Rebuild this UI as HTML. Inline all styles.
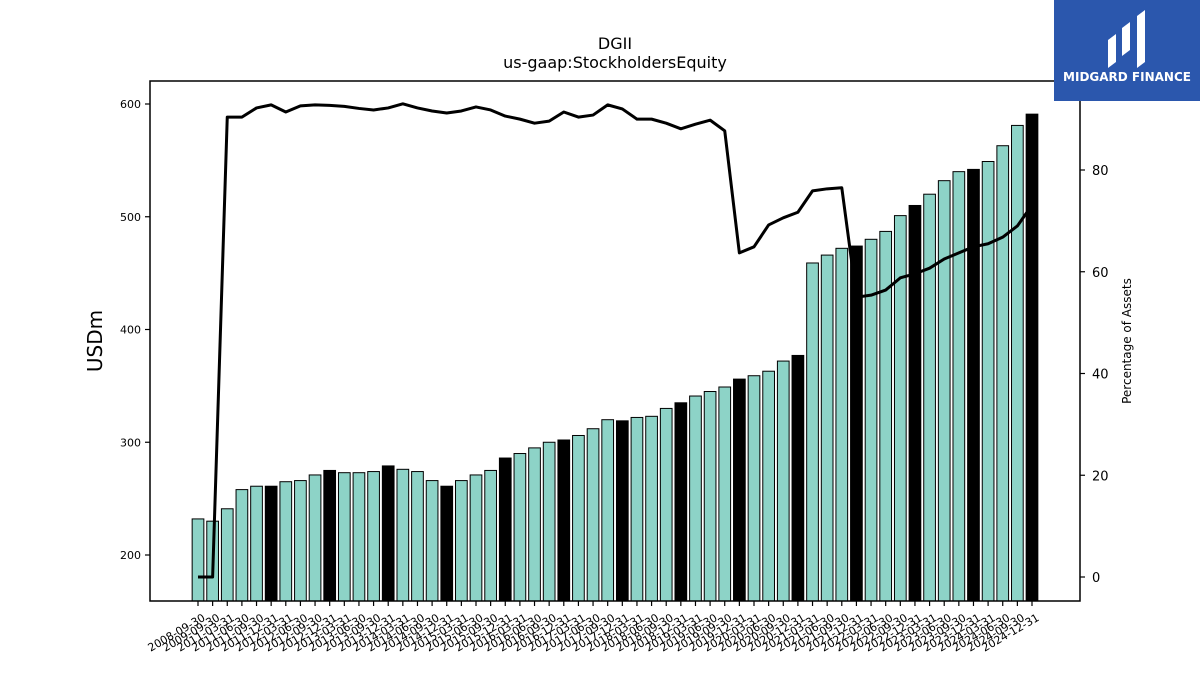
<!DOCTYPE html>
<html><head><meta charset="utf-8"><style>
body{margin:0;background:#fff;}
svg text{font-family:"DejaVu Sans","Liberation Sans",sans-serif;}
</style></head><body>
<svg id="chart" width="1200" height="675" xmlns="http://www.w3.org/2000/svg">
<rect x="0" y="0" width="1200" height="675" fill="#fff"/>
<text x="615" y="49" font-size="16" text-anchor="middle">DGII</text>
<text x="615" y="68" font-size="16" text-anchor="middle">us-gaap:StockholdersEquity</text>
<text x="102" y="341" font-size="20" text-anchor="middle" transform="rotate(-90 102 341)">USDm</text>
<text x="1131" y="341" font-size="12" text-anchor="middle" transform="rotate(-90 1131 341)">Percentage of Assets</text>
<g id="bars"></g>
<g id="xticks"></g>
<g id="yticks"></g>
<g id="y2ticks"></g>
<polyline id="pct-line" fill="none" stroke="#000" stroke-width="3" stroke-linejoin="round"/>
<rect x="150" y="81" width="930" height="520" fill="none" stroke="#000" stroke-width="1.5"/>
<g>
<rect x="1054" y="0" width="146" height="101" fill="#2b57ad"/>
<path d="M1108 68 L1108 40 L1116 34 L1116 62 Z M1122 56 L1122 28 L1130 22 L1130 50 Z M1137 68 L1137 16 L1145 10 L1145 62 Z" fill="#fff"/>
<text x="1127" y="81" font-size="12" font-weight="bold" fill="#fff" text-anchor="middle">MIDGARD FINANCE</text>
</g>
</svg>
<script>
const dates=["2008-09-30","2009-09-30","2011-03-31","2011-06-30","2011-09-30","2011-12-31","2012-03-31","2012-06-30","2012-09-30","2012-12-31","2013-03-31","2013-06-30","2013-09-30","2013-12-31","2014-03-31","2014-06-30","2014-09-30","2014-12-31","2015-03-31","2015-06-30","2015-09-30","2015-12-31","2016-03-31","2016-06-30","2016-09-30","2016-12-31","2017-03-31","2017-06-30","2017-09-30","2017-12-31","2018-03-31","2018-06-30","2018-09-30","2018-12-31","2019-03-31","2019-06-30","2019-09-30","2019-12-31","2020-03-31","2020-06-30","2020-09-30","2020-12-31","2021-03-31","2021-06-30","2021-09-30","2021-12-31","2022-03-31","2022-06-30","2022-09-30","2022-12-31","2023-03-31","2023-06-30","2023-09-30","2023-12-31","2024-03-31","2024-06-30","2024-09-30","2024-12-31"];
const equity=[232,230,241,258,261,261,265,266,271,275,273,273,274,279,276,274,266,261,266,271,275,286,290,295,300,302,306,312,320,319,322,323,330,335,341,345,349,356,359,363,372,377,459,466,472,474,480,487,501,510,520,532,540,542,549,563,581,591];
const pctAssets=[0,0,90.4,90.4,92.2,92.8,91.4,92.6,92.8,92.7,92.5,92.1,91.8,92.2,93.0,92.2,91.6,91.2,91.6,92.4,91.8,90.6,90.0,89.2,89.6,91.4,90.4,90.8,92.8,92.0,90.0,90.0,89.2,88.1,89.0,89.8,87.7,63.7,64.9,69.2,70.6,71.7,75.9,76.3,76.5,55.0,55.4,56.4,58.8,59.6,60.7,62.5,63.7,64.9,65.5,66.8,69.0,73.1];
const yTicks=[200,300,400,500,600];
const y2Ticks=[0,20,40,60,80];
const NS="http://www.w3.org/2000/svg";
const x0=198,x1=1032;
const step=(x1-x0)/(dates.length-1);
const xs=i=>x0+i*step;
const ys=v=>555-(v-200)*1.1275;
const y2s=p=>577-p*5.0875;
const bottom=601;
function mk(tag,attrs,parent){const e=document.createElementNS(NS,tag);for(const k in attrs)e.setAttribute(k,attrs[k]);parent.appendChild(e);return e;}
const bars=document.getElementById('bars'),xt=document.getElementById('xticks');
const bw=step*0.8;
dates.forEach((d,i)=>{
  const y=ys(equity[i]);
  const b=mk('rect',{x:xs(i)-bw/2,y:y,width:bw,height:bottom-y,fill:d.endsWith('12-31')?'#000':'#8dd3c7',stroke:'#000','stroke-width':1},bars);
  
  
  const t=mk('line',{x1:xs(i),x2:xs(i),y1:bottom,y2:bottom+5,stroke:'#000','stroke-width':1.2},xt);
  
  
  const lx=xs(i)+4,ly=bottom+12;
  const l=mk('text',{x:lx,y:ly,'font-size':11,'text-anchor':'end',transform:`rotate(-30 ${lx} ${ly})`,'dominant-baseline':'hanging'},xt);
  
  
  l.textContent=d;
});
const yt=document.getElementById('yticks');
yTicks.forEach(v=>{
  const y=ys(v);
  const t=mk('line',{x1:145,x2:150,y1:y,y2:y,stroke:'#000','stroke-width':1.2},yt);
  
  
  const l=mk('text',{x:141,y:y+4,'font-size':11,'text-anchor':'end'},yt);
  
  
  l.textContent=v;
});
const y2t=document.getElementById('y2ticks');
y2Ticks.forEach(v=>{
  const y=y2s(v);
  const t=mk('line',{x1:1080,x2:1085,y1:y,y2:y,stroke:'#000','stroke-width':1.2},y2t);
  
  
  const l=mk('text',{x:1092,y:y+5,'font-size':13,'text-anchor':'start'},y2t);
  
  
  l.textContent=v;
});
document.getElementById('pct-line').setAttribute('points',pctAssets.map((p,i)=>xs(i)+','+y2s(p)).join(' '));
</script>
</body></html>
